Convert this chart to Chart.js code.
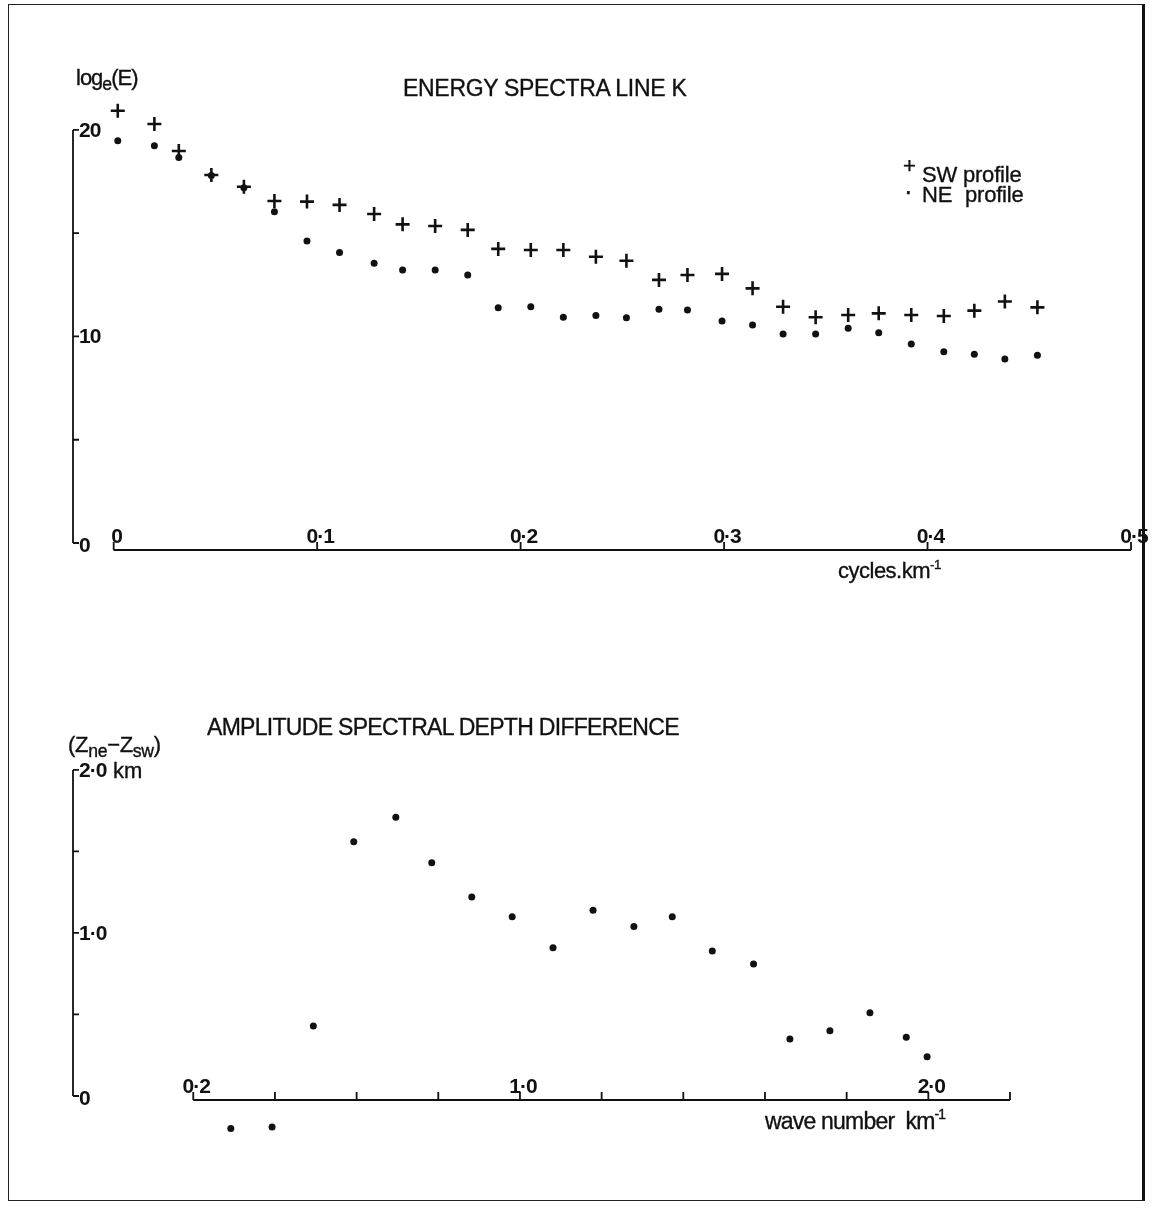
<!DOCTYPE html>
<html>
<head>
<meta charset="utf-8">
<script src="https://cdn.jsdelivr.net/npm/chart.js@4.4.0/dist/chart.umd.min.js"></script>
<style>
  html, body { margin: 0; padding: 0; background: #fff; }
  body { width: 1152px; height: 1215px; position: relative; overflow: hidden;
         font-family: "Liberation Sans", Arial, sans-serif; color: #111; }
  .box { position: absolute; left: 0; }
  .t { position: absolute; white-space: nowrap; line-height: 1; -webkit-text-stroke: 0.35px #111; }
  .t sub { font-size: 0.8em; vertical-align: -0.3em; line-height: 0; }
  .t sup { font-size: 0.6em; vertical-align: 0.7em; line-height: 0; }
  #frame { position: absolute; left: 8px; top: 4px; width: 1133px; height: 1195px;
           border: 1.5px solid #222; border-right: 3px solid #111; }
</style>
</head>
<body>
<div id="frame"></div>

<div class="box" style="top:0;width:1152px;height:600px"><canvas id="energyChart" width="1152" height="600"></canvas></div>
<div class="box" style="top:600px;width:1152px;height:560px"><canvas id="depthChart" width="1152" height="560"></canvas></div>

<!-- top chart text -->
<div class="t" style="left:76px;top:67px;font-size:22px;letter-spacing:-1px">log<sub>e</sub>(E)</div>
<div class="t" style="left:403px;top:77px;font-size:23px;letter-spacing:-0.3px">ENERGY SPECTRA LINE K</div>
<div class="t" style="left:903px;top:155px;font-size:22px">+</div>
<div class="t" style="left:922px;top:164px;font-size:22px;letter-spacing:-0.2px">SW profile</div>
<div class="t" style="left:904px;top:178px;font-size:26px">·</div>
<div class="t" style="left:922px;top:184px;font-size:22px;letter-spacing:-0.2px">NE</div>
<div class="t" style="left:965px;top:184px;font-size:22px;letter-spacing:-0.2px">profile</div>
<div class="t" style="left:838px;top:560px;font-size:22px;letter-spacing:-0.5px">cycles.km<sup>-1</sup></div>

<!-- bottom chart text -->
<div class="t" style="left:207px;top:716px;font-size:23px;letter-spacing:-0.7px">AMPLITUDE SPECTRAL DEPTH DIFFERENCE</div>
<div class="t" style="left:68px;top:734px;font-size:22px;letter-spacing:-0.3px">(Z<sub>ne</sub>−Z<sub>sw</sub>)</div>
<div class="t" style="left:113px;top:760px;font-size:22px">km</div>
<div class="t" style="left:765px;top:1110px;font-size:23px;letter-spacing:-0.8px">wave number&nbsp; km<sup>-1</sup></div>

<script>
// Energy spectra, line K: frequency in cycles per km
const freq = [0.002, 0.020, 0.032, 0.048, 0.064, 0.079, 0.095, 0.111, 0.128, 0.142,
              0.158, 0.174, 0.189, 0.205, 0.221, 0.237, 0.252, 0.268, 0.282, 0.299,
              0.314, 0.329, 0.345, 0.361, 0.376, 0.392, 0.408, 0.423, 0.438, 0.454];
// log_e(E) for the two profiles
const swEnergy = [20.93, 20.29, 18.98, 17.82, 17.25, 16.56, 16.53, 16.37, 15.93, 15.43,
                  15.35, 15.16, 14.24, 14.19, 14.19, 13.86, 13.67, 12.74, 12.98, 13.03,
                  12.33, 11.44, 10.93, 11.04, 11.12, 11.04, 10.99, 11.25, 11.69, 11.41];
const neEnergy = [19.48, 19.24, 18.66, 17.80, 17.20, 16.04, 14.62, 14.06, 13.54, 13.22,
                  13.22, 12.98, 11.39, 11.44, 10.93, 11.01, 10.91, 11.32, 11.28, 10.75,
                  10.56, 10.12, 10.12, 10.40, 10.18, 9.64, 9.26, 9.14, 8.91, 9.09];

// Amplitude spectral depth difference (Zne - Zsw) in km vs wave number
const waveNumber = [0.292, 0.393, 0.494, 0.593, 0.696, 0.784, 0.882, 0.981, 1.081, 1.179,
                    1.279, 1.373, 1.471, 1.572, 1.661, 1.759, 1.857, 1.946, 1.997];
const depthDiff = [-0.20, -0.19, 0.43, 1.56, 1.71, 1.43, 1.22, 1.10, 0.91, 1.14,
                   1.04, 1.10, 0.89, 0.81, 0.35, 0.40, 0.51, 0.36, 0.24];

// Tick values and labels
const energyTicks = [0, 10, 20];
const energyTickLabels = ['0', '10', '20'];
const energyMinorTicks = [5, 15];
const freqTicks = [0, 0.1, 0.2, 0.3, 0.4, 0.5];
const freqTickLabels = ['0', '0·1', '0·2', '0·3', '0·4', '0·5'];

const depthTicks = [0, 1, 2];
const depthTickLabels = ['0', '1·0', '2·0'];
const depthMinorTicks = [0.5, 1.5];
const waveTicks = [0.2, 0.4, 0.6, 0.8, 1.0, 1.2, 1.4, 1.6, 1.8, 2.0, 2.2];
const waveTickLabels = ['0·2', '', '', '', '1·0', '', '', '', '', '2·0', ''];

const INK = '#111';

// Draws the hand-lettered style axes through the chart's own scales
const paperAxes = {
  id: 'paperAxes',
  afterDatasetsDraw(chart, args, o) {
    const ctx = chart.ctx;
    const xs = chart.scales.x, ys = chart.scales.y;
    const x0 = chart.chartArea.left;
    const yTop = ys.getPixelForValue(o.yTicks[o.yTicks.length - 1]);
    const yBot = ys.getPixelForValue(o.yTicks[0]);
    ctx.save();
    ctx.strokeStyle = INK;
    ctx.fillStyle = INK;
    ctx.lineWidth = 1.8;

    // y axis and its ticks (end ticks make the hooks)
    ctx.beginPath();
    ctx.moveTo(x0, yTop);
    ctx.lineTo(x0, yBot);
    o.yTicks.concat(o.yMinor).forEach(v => {
      const y = ys.getPixelForValue(v);
      ctx.moveTo(x0, y);
      ctx.lineTo(x0 + 6, y);
    });
    ctx.stroke();

    ctx.font = 'bold 21px "Liberation Sans", Arial, sans-serif';
    ctx.letterSpacing = '-1px';
    ctx.textAlign = 'left';
    ctx.textBaseline = 'middle';
    o.yTicks.forEach((v, i) => {
      ctx.fillText(o.yLabels[i], x0 + 6, ys.getPixelForValue(v) + (i === 0 ? 3 : 1));
    });

    // x axis, detached from the y axis, ticks pointing up
    const yAx = yBot + o.drop;
    const xl = xs.getPixelForValue(o.xTicks[0]);
    const xr = xs.getPixelForValue(o.xTicks[o.xTicks.length - 1]);
    ctx.beginPath();
    ctx.moveTo(xl, yAx);
    ctx.lineTo(xr, yAx);
    o.xTicks.forEach(v => {
      const x = xs.getPixelForValue(v);
      ctx.moveTo(x, yAx);
      ctx.lineTo(x, yAx - 8);
    });
    ctx.stroke();

    ctx.textAlign = 'center';
    ctx.textBaseline = 'alphabetic';
    o.xTicks.forEach((v, i) => {
      if (o.xLabels[i]) ctx.fillText(o.xLabels[i], xs.getPixelForValue(v) + 3, yAx - 7);
    });
    ctx.restore();
  }
};

function baseOptions(pad, x, y, axes) {
  return {
    responsive: false,
    animation: false,
    events: [],
    layout: { padding: pad },
    plugins: { legend: { display: false }, tooltip: { enabled: false }, paperAxes: axes },
    scales: {
      x: { type: 'linear', display: false, min: x[0], max: x[1] },
      y: { type: 'linear', display: false, min: y[0], max: y[1] }
    }
  };
}

// Top: energy spectra
new Chart(document.getElementById('energyChart'), {
  type: 'scatter',
  data: {
    datasets: [{
      label: 'SW profile',
      data: freq.map((f, i) => ({ x: f, y: swEnergy[i] })),
      pointStyle: 'cross',
      pointRadius: 7,
      borderWidth: 2.6,
      borderColor: INK,
      clip: false
    }, {
      label: 'NE profile',
      data: freq.map((f, i) => ({ x: f, y: neEnergy[i] })),
      pointStyle: 'circle',
      pointRadius: 3.5,
      borderWidth: 0,
      backgroundColor: INK,
      clip: false
    }]
  },
  options: baseOptions(
    { left: 73, right: 21, top: 100, bottom: 57 },
    [-0.02, 0.5], [0, 21.45],
    { yTicks: energyTicks, yLabels: energyTickLabels, yMinor: energyMinorTicks,
      xTicks: freqTicks, xLabels: freqTickLabels, drop: 7 }
  ),
  plugins: [paperAxes]
});

// Bottom: depth difference
new Chart(document.getElementById('depthChart'), {
  type: 'scatter',
  data: {
    datasets: [{
      label: 'Zne - Zsw',
      data: waveNumber.map((k, i) => ({ x: k, y: depthDiff[i] })),
      pointStyle: 'circle',
      pointRadius: 3.5,
      borderWidth: 0,
      backgroundColor: INK,
      clip: false
    }]
  },
  options: baseOptions(
    { left: 73, right: 142, top: 160, bottom: 20 },
    [-0.0945, 2.2], [-0.27, 2.061],
    { yTicks: depthTicks, yLabels: depthTickLabels, yMinor: depthMinorTicks,
      xTicks: waveTicks, xLabels: waveTickLabels, drop: 4 }
  ),
  plugins: [paperAxes]
});
</script>
</body>
</html>
